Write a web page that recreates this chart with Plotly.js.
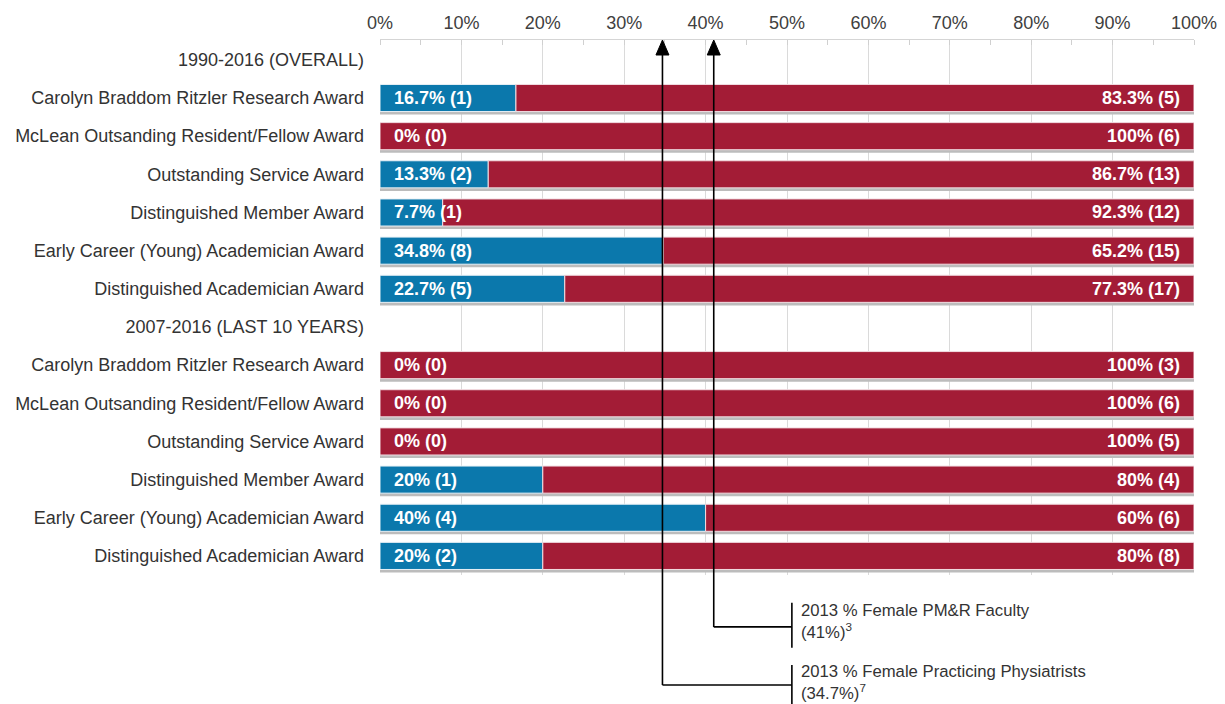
<!DOCTYPE html>
<html>
<head>
<meta charset="utf-8">
<script src="https://cdn.plot.ly/plotly-3.0.1.min.js"></script>
<style>
  html, body { margin: 0; padding: 0; background: #fff; }
  #chart { width: 1225px; height: 704px; }
</style>
</head>
<body>
<div id="chart"></div>
<script>
// ---- data ----
const categories = [
  "1990-2016 (OVERALL)",
  "Carolyn Braddom Ritzler Research Award",
  "McLean Outsanding Resident/Fellow Award",
  "Outstanding Service Award",
  "Distinguished Member Award",
  "Early Career (Young) Academician Award",
  "Distinguished Academician Award",
  "2007-2016 (LAST 10 YEARS)",
  "Carolyn Braddom Ritzler Research Award",
  "McLean Outsanding Resident/Fellow Award",
  "Outstanding Service Award",
  "Distinguished Member Award",
  "Early Career (Young) Academician Award",
  "Distinguished Academician Award"
];
const femalePct = [null, 16.7, 0, 13.3, 7.7, 34.8, 22.7, null, 0, 0, 0, 20, 40, 20];
const femaleN   = [null, 1, 0, 2, 1, 8, 5, null, 0, 0, 0, 1, 4, 2];
const malePct   = [null, 83.3, 100, 86.7, 92.3, 65.2, 77.3, null, 100, 100, 100, 80, 60, 80];
const maleN     = [null, 5, 6, 13, 12, 15, 17, null, 3, 6, 5, 4, 6, 8];
const xTickVals = [0, 10, 20, 30, 40, 50, 60, 70, 80, 90, 100];
const refValues = [41, 34.7];
const refLabels = ["2013 % Female PM&R Faculty<br>(41%)<sup>3</sup>",
                   "2013 % Female Practicing Physiatrists<br>(34.7%)<sup>7</sup>"];

// ---- styles ----
const BLUE = "#0b78ac";
const RED = "#a31c36";
const FONT = "Liberation Sans, Arial, sans-serif";
const rows = categories.map((_, i) => i);
const BW = 0.71;

const totals = malePct.map((v, i) => v == null ? null : v + femalePct[i]);

const traces = [
  { // shadow under each bar
    type: "bar", orientation: "h", y: rows, x: totals,
    width: BW, offset: -BW / 2 + 0.08,
    marker: { color: "#bcbcbc" }, hoverinfo: "skip", showlegend: false
  },
  {
    type: "bar", orientation: "h", y: rows, x: femalePct, name: "Female",
    width: BW, offset: -BW / 2,
    marker: { color: BLUE, line: { color: "#e9f1f6", width: 1 } }, showlegend: false
  },
  {
    type: "bar", orientation: "h", y: rows, x: malePct, base: femalePct, name: "Male",
    width: BW, offset: -BW / 2,
    marker: { color: RED, line: { color: "#f2dde2", width: 1 } }, showlegend: false
  }
];

const LABEL_FONT = { family: FONT, size: 18, color: "#ffffff", weight: "bold" };
const annotations = [];
rows.forEach(i => {
  if (femalePct[i] == null) return;
  annotations.push({
    x: 0, y: i, xref: "x", yref: "y", xanchor: "left", yanchor: "middle",
    xshift: 12, showarrow: false,
    text: femalePct[i] + "% (" + femaleN[i] + ")", font: LABEL_FONT
  });
  annotations.push({
    x: totals[i], y: i, xref: "x", yref: "y", xanchor: "right", yanchor: "middle",
    xshift: -12, showarrow: false,
    text: malePct[i] + "% (" + maleN[i] + ")", font: LABEL_FONT
  });
});

// reference markers (leader lines drawn as shapes)
const tailY = [-0.097, -0.2056];       // paper y of horizontal leader lines
const barY = [[-0.052, -0.136], [-0.168, -0.25]];
const labelTop = [-0.044, -0.158];
const LEADER_X = 50.6;
const shapes = [];
refValues.forEach((v, k) => {
  shapes.push({ // vertical arrow shaft
    type: "line", xref: "x", yref: "paper", x0: v, x1: v, y0: tailY[k], y1: 0.985,
    line: { color: "#000", width: 1.6 }
  });
  shapes.push({ // arrow head (pixel-sized triangle anchored at the top of the plot)
    type: "path", xref: "x", yref: "paper",
    xsizemode: "pixel", ysizemode: "pixel", xanchor: v, yanchor: 1,
    path: "M -6.5 -15 L 6.5 -15 L 0 0 Z",
    fillcolor: "#000", line: { color: "#000", width: 1 }
  });
  shapes.push({
    type: "line", xref: "x", yref: "paper", x0: v, x1: LEADER_X, y0: tailY[k], y1: tailY[k],
    line: { color: "#000", width: 1.6 }
  });
  shapes.push({
    type: "line", xref: "x", yref: "paper", x0: LEADER_X, x1: LEADER_X, y0: barY[k][0], y1: barY[k][1],
    line: { color: "#000", width: 1.6 }
  });
  annotations.push({
    x: 0.515, y: labelTop[k], xref: "paper", yref: "paper", xanchor: "left", yanchor: "top",
    align: "left", showarrow: false, text: refLabels[k],
    font: { family: FONT, size: 16.7, color: "#333" }
  });
});

const layout = {
  width: 1225, height: 704,
  margin: { l: 380, r: 31, t: 40, b: 129 },
  paper_bgcolor: "#fff", plot_bgcolor: "#fff",
  barmode: "overlay",
  showlegend: false,
  font: { family: FONT, size: 18, color: "#333" },
  xaxis: {
    side: "top", range: [0, 100], tickvals: xTickVals, ticktext: xTickVals.map(v => v + "%"),
    showgrid: true, gridcolor: "#dadada", gridwidth: 1,
    showline: true, linecolor: "#d5d5d5", linewidth: 1,
    zeroline: false, ticks: "", fixedrange: true,
    ticklabelstandoff: 3,
    tickfont: { family: FONT, size: 18, color: "#404040" },
    minor: { dtick: 5, tick0: 0, ticks: "inside", ticklen: 5, tickcolor: "#d0d0d0", showgrid: false }
  },
  yaxis: {
    range: [13.5, -0.52], tickvals: rows, ticktext: categories,
    showgrid: false, zeroline: false, showline: false, ticks: "",
    ticklabelstandoff: 15,
    tickfont: { family: FONT, size: 18, color: "#333" }
  },
  annotations: annotations,
  shapes: shapes
};

Plotly.newPlot("chart", traces, layout, { displayModeBar: false, staticPlot: true });
</script>
</body>
</html>
